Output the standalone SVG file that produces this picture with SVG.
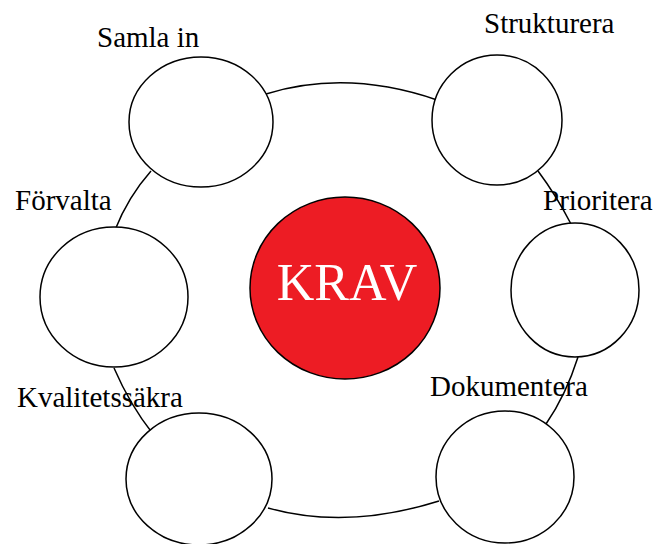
<svg xmlns="http://www.w3.org/2000/svg" width="656" height="544" viewBox="0 0 656 544">
<style>
.c{fill:#fff;stroke:#000;stroke-width:1.5}
.l{fill:none;stroke:#000;stroke-width:1.5}
.t{font-family:"Liberation Serif","Times New Roman",serif;font-size:29px;fill:#000}
</style>
<rect width="656" height="544" fill="#fff"/>
<g id="connectors">
<path class="l" d="M266,94 Q347,69 437,100"/>
<path class="l" d="M151,171 Q128,197 115,230"/>
<path class="l" d="M538,171 Q556,195 571,224"/>
<path class="l" d="M114,368 Q130,405 153,434"/>
<path class="l" d="M578,357 Q566,395 546,424"/>
<path class="l" d="M268,508 Q347,530 439,501"/>
</g>
<g id="samla"><ellipse class="c" cx="201" cy="122" rx="72" ry="65"/><text class="t" x="97" y="47">Samla in</text></g>
<g id="strukturera"><ellipse class="c" cx="497" cy="120" rx="65" ry="65"/><text class="t" x="484" y="33">Strukturera</text></g>
<g id="prioritera"><ellipse class="c" cx="575" cy="290" rx="64" ry="67"/><text class="t" x="543" y="210">Prioritera</text></g>
<g id="dokumentera"><ellipse class="c" cx="505" cy="477" rx="69" ry="66"/><text class="t" x="430" y="396">Dokumentera</text></g>
<g id="kvalitetssakra"><ellipse class="c" cx="199" cy="479" rx="73" ry="66"/><text class="t" x="17" y="407">Kvalitetssäkra</text></g>
<g id="forvalta"><ellipse class="c" cx="114" cy="297" rx="74" ry="70"/><text class="t" x="15" y="210">Förvalta</text></g>
<g id="krav"><ellipse cx="345" cy="288" rx="95" ry="91" fill="#ED1C24" stroke="#000" stroke-width="1.5"/><text x="347" y="300" text-anchor="middle" font-family="Liberation Serif, Times New Roman, serif" font-size="52" fill="#fff">KRAV</text></g>
</svg>
